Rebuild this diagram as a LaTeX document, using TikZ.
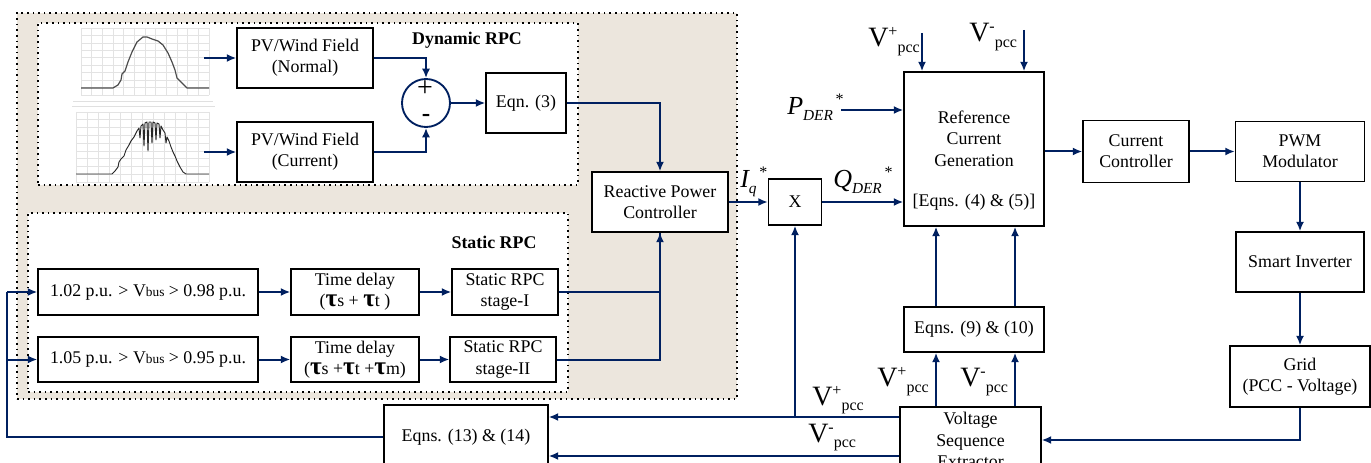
\documentclass[tikz,border=0pt]{standalone}
\usepackage{fontspec}
\setmainfont{Liberation Serif}
\usepackage{tikz}
\usetikzlibrary{arrows.meta,positioning}
\definecolor{rpcnavy}{RGB}{0,32,96}
\definecolor{rpcbeige}{RGB}{236,230,221}
\newcommand{\rpcfont}{\fontsize{13.4}{16}\selectfont}
\newcommand{\rpctau}{{\fontsize{19}{16}\selectfont\bfseries τ}}
\newcommand{\rpcbus}{{\fontsize{10}{10}\selectfont bus}}
\newcommand{\rpcvpcc}[1]{{\fontsize{21}{21}\selectfont V}\raisebox{7.5pt}{\fontsize{12}{12}\selectfont #1}\raisebox{-4pt}{\fontsize{12}{12}\selectfont pcc}}
\newcommand{\rpcsig}[2]{{\fontsize{19.5}{20}\selectfont\itshape #1}\raisebox{-4.5pt}{\fontsize{11.5}{12}\selectfont\itshape #2}\raisebox{7.5pt}{\fontsize{12}{12}\selectfont\,*}}
\tikzset{
  rpcblock/.style={draw=black,line width=1.1pt,fill=white,align=center,
                   inner sep=2pt,font=\rpcfont},
  rpcsize/.style 2 args={minimum width=#1*0.75pt,minimum height=#2*0.75pt},
  rpcregion/.style={draw=black,line width=1.2pt,dash pattern=on 1.2pt off 3pt},
  rpcsum/.style={circle,draw=rpcnavy,line width=1.4pt,fill=white,
                 minimum size=48*0.75pt,inner sep=0pt},
  rpcflow/.style={-{Latex[length=7pt,width=6pt]},line width=1.5pt,rpcnavy},
  rpcwire/.style={line width=1.5pt,rpcnavy},
  rpctitle/.style={font=\rpcfont\bfseries,inner sep=0pt},
  rpctext/.style={font=\rpcfont,align=center,inner sep=0pt},
  rpclabel/.style={inner sep=0pt,anchor=base west},
  rpcgrid/.style={black!11,line width=0.5pt},
  rpcwave/.style={black!70,line width=0.9pt,line join=round}
}

\begin{document}
\begin{tikzpicture}[x=0.75pt,y=-0.75pt]
  \useasboundingbox (0,0) rectangle (1371,463);
  \clip (0,0) rectangle (1371,463);

  \node[rpcregion,fill=rpcbeige,rpcsize={720}{386}] (outer) at (377,206) {};
  \node[rpcregion,fill=white,rpcsize={540}{162}] (dynbox) at (308,104) {};
  \node[rpcregion,fill=white,rpcsize={540}{179}] (statbox) at (298,302.5) {};

  \foreach \gx in {0,...,12} \draw[rpcgrid] (81+\gx*10.67,28) -- (81+\gx*10.67,95);
  \foreach \gy in {0,...,9} \draw[rpcgrid] (81,28+\gy*7.44) -- (209,28+\gy*7.44);
  \foreach \gx in {0,...,12} \draw[rpcgrid] (76+\gx*11.08,112) -- (76+\gx*11.08,182);
  \foreach \gy in {0,...,9} \draw[rpcgrid] (76,112+\gy*7.78) -- (209,112+\gy*7.78);
  \draw[black!12] (73,101) -- (213,101);
  \draw[black!12] (72,106) -- (215,106);
  \draw[rpcwave] (81,88) -- (113,88) -- (118,85) -- (121,80) -- (122,74) -- (125,71)
    -- (128,62) -- (132,52) -- (137,42) -- (143,37) -- (147,37) -- (152,39) -- (158,41)
    -- (163,45) -- (168,53) -- (172,62) -- (175,70) -- (177,78) -- (182,83) -- (187,88)
    -- (209,88);
  \draw[rpcwave,black!85,line width=0.7pt] (76,174) -- (112,174) -- (115,171) -- (118,167)
    -- (119,162) -- (121,159) -- (124,156) -- (126,150) -- (129,145) -- (131,141)
    -- (134,137) -- (137,131) -- (139,128) -- (140,138) -- (141,126) -- (143,124)
    -- (144,146) -- (145,123) -- (147,122) -- (148,151) -- (149,122) -- (151,122)
    -- (152,143) -- (153,122) -- (155,123) -- (156,140) -- (157,123) -- (159,124)
    -- (160,138) -- (161,126) -- (163,130) -- (165,133) -- (166,143) -- (167,137)
    -- (169,141) -- (171,147) -- (173,152) -- (175,156) -- (177,161) -- (180,167)
    -- (183,172) -- (186,174) -- (209,174);

  \node[rpcblock,rpcsize={136}{60}] (pvn) at (305,58) {PV/Wind Field\\(Normal)};
  \node[rpcblock,rpcsize={136}{60}] (pvc) at (305,152) {PV/Wind Field\\(Current)};
  \node[rpcsum] (sum) at (426,103) {};
  \node[inner sep=0pt,font=\fontsize{21}{21}\selectfont] (sumplus) at (425,89) {+};
  \node[inner sep=0pt,font=\fontsize{19}{19}\selectfont\bfseries] (summinus) at (426,118) {-};
  \node[rpcblock,rpcsize={80}{60}] (eqthree) at (526,103) {Eqn. (3)};
  \node[rpctitle] (dyntitle) at (467,40) {Dynamic RPC};

  \node[rpcblock,rpcsize={136}{60}] (rpcctl) at (660,202) {Reactive Power\\Controller};
  \node[rpcblock,rpcsize={53}{46}] (mult) at (795,202) {X};
  \node[rpcblock,rpcsize={140}{154}] (refgen) at (974,149) {};
  \node[rpctext] (refgentxt) at (974,138.5) {Reference\\Current\\Generation};
  \node[rpctext] (refgeneq) at (974,202) {[Eqns. (4) \& (5)]};
  \node[rpcblock,rpcsize={106}{62}] (curctl) at (1136,151.5) {Current\\Controller};
  \node[rpcblock,rpcsize={129}{60}] (pwm) at (1300,151.5) {PWM\\Modulator};
  \node[rpcblock,rpcsize={128}{60}] (inverter) at (1300,262) {Smart Inverter};
  \node[rpcblock,rpcsize={140}{61}] (grid) at (1300,376.5) {Grid\\(PCC - Voltage)};
  \node[rpcblock,rpcsize={141}{66}] (vse) at (970.5,440) {Voltage\\Sequence\\Extractor};
  \node[rpcblock,rpcsize={140}{45}] (eqnine) at (974,329.5) {Eqns. (9) \& (10)};
  \node[rpcblock,rpcsize={164}{64}] (eqthirteen) at (466,437) {Eqns. (13) \& (14)};

  \node[rpcblock,rpcsize={220}{46}] (lima) at (148,292) {1.02 p.u. > V\rpcbus{} > 0.98 p.u.};
  \node[rpcblock,rpcsize={128}{46}] (dlya) at (355,292) {Time delay\\(\rpctau s + \rpctau t )};
  \node[rpcblock,rpcsize={106}{46}] (stga) at (505,292) {Static RPC\\stage-I};
  \node[rpcblock,rpcsize={220}{45}] (limb) at (148,359.5) {1.05 p.u. > V\rpcbus{} > 0.95 p.u.};
  \node[rpcblock,rpcsize={128}{45}] (dlyb) at (355,359.5) {Time delay\\(\rpctau s +\rpctau t +\rpctau m)};
  \node[rpcblock,rpcsize={106}{45}] (stgb) at (503,359.5) {Static RPC\\stage-II};
  \node[rpctitle] (stattitle) at (494,242) {Static RPC};

  \node[rpclabel] (pder) at (787,115) {\rpcsig{P}{DER}};
  \node[rpclabel] (qder) at (833,188) {\rpcsig{Q}{DER}};
  \node[rpclabel] (iq) at (740,188) {\rpcsig{I}{q}};
  \node[rpclabel] (vtopp) at (868,47) {\rpcvpcc{+}};
  \node[rpclabel] (vtopm) at (969,42) {\rpcvpcc{-}};
  \node[rpclabel] (vbusp) at (812,405) {\rpcvpcc{+}};
  \node[rpclabel] (vbusm) at (808,442) {\rpcvpcc{-}};
  \node[rpclabel] (vninep) at (877,387) {\rpcvpcc{+}};
  \node[rpclabel] (vninem) at (960,387) {\rpcvpcc{-}};

  \coordinate (wavea) at (204,58);
  \coordinate (waveb) at (204,152);
  \draw[rpcflow] (wavea) -- (pvn.west);
  \draw[rpcflow] (waveb) -- (pvc.west);
  \draw[rpcflow] (pvn.east) -| (sum.north);
  \draw[rpcflow] (pvc.east) -| (sum.south);
  \draw[rpcflow] (sum.east) -- (eqthree.west);
  \draw[rpcflow] (eqthree.east) -| (rpcctl.north);
  \draw[rpcflow] (rpcctl.east) -- (mult.west);
  \draw[rpcflow] (mult.east) -- (mult.east -| refgen.west);

  \coordinate (pin) at (841,110);
  \coordinate (vinp) at (922,33);
  \coordinate (vinm) at (1024,30);
  \draw[rpcflow] (pin) -- (pin -| refgen.west);
  \draw[rpcflow] (vinp) -- (vinp |- refgen.north);
  \draw[rpcflow] (vinm) -- (vinm |- refgen.north);
  \draw[rpcflow] (refgen.east |- curctl.west) -- (curctl.west);
  \draw[rpcflow] (curctl) -- (pwm);
  \draw[rpcflow] (pwm) -- (inverter);
  \draw[rpcflow] (inverter) -- (grid);
  \draw[rpcflow] (grid.south) |- (vse.east);

  \coordinate (tapp) at (936,0);
  \coordinate (tapm) at (1015,0);
  \draw[rpcflow] (vse.north -| tapp) -- (eqnine.south -| tapp);
  \draw[rpcflow] (vse.north -| tapm) -- (eqnine.south -| tapm);
  \draw[rpcflow] (eqnine.north -| tapp) -- (refgen.south -| tapp);
  \draw[rpcflow] (eqnine.north -| tapm) -- (refgen.south -| tapm);

  \coordinate (busp) at (795,417);
  \coordinate (busm) at (795,456);
  \draw[rpcflow] (vse.west |- busp) -- (eqthirteen.east |- busp);
  \draw[rpcflow] (busp) -- (mult.south);
  \draw[rpcflow] (vse.west |- busm) -- (eqthirteen.east |- busm);

  \coordinate (fbtop) at (7,292);
  \draw[rpcwire] (eqthirteen.west) -| (fbtop);
  \draw[rpcflow] (fbtop) -- (lima.west);
  \draw[rpcflow] (fbtop |- limb.west) -- (limb.west);
  \draw[rpcflow] (lima) -- (dlya);
  \draw[rpcflow] (dlya) -- (stga);
  \draw[rpcflow] (limb) -- (dlyb);
  \draw[rpcflow] (dlyb) -- (stgb);
  \draw[rpcwire] (stga.east) -| (rpcctl.south);
  \draw[rpcflow] (stgb.east) -| (rpcctl.south);
\end{tikzpicture}
\end{document}
